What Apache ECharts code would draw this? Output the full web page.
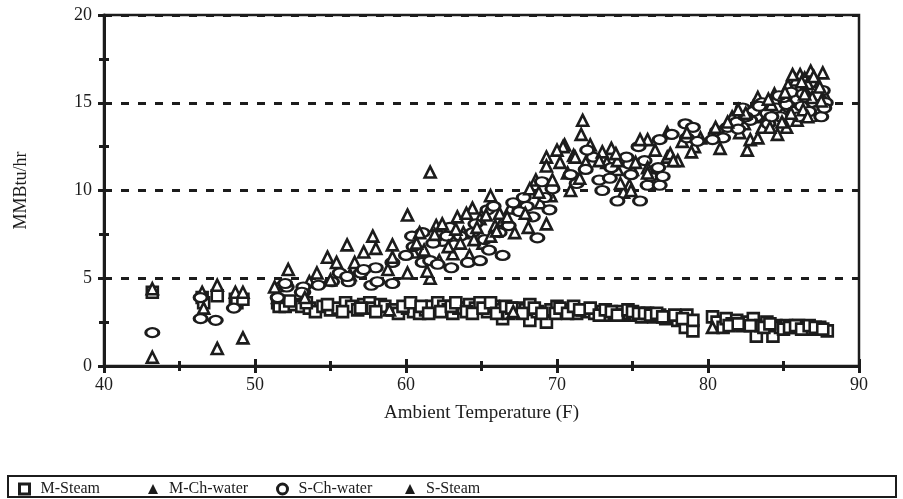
<!DOCTYPE html>
<html>
<head>
<meta charset="utf-8">
<script src="https://cdn.jsdelivr.net/npm/echarts@6/dist/echarts.min.js"></script>
<style>
html,body{margin:0;padding:0;background:#fff;}
#chart{width:903px;height:499px;}
</style>
</head>
<body>
<div id="chart"></div>
<script>
const xTicks = [40, 50, 60, 70, 80, 90];
const yTicks = [0, 5, 10, 15, 20];
const seriesNames = ['M-Steam', 'M-Ch-water', 'S-Ch-water', 'S-Steam'];

const mSteam = [
[43.2,4.2],[46.5,3.9],[46.6,3.6],[47.5,4.0],[48.7,3.8],[48.8,3.6],[49.2,3.8],[51.5,3.6],[52.1,3.6],[51.6,3.4],
[52.0,3.4],[52.6,3.5],[53.1,3.4],[53.6,3.3],[54.0,3.1],[54.5,3.4],[55.0,3.2],[55.5,3.3],[56.0,3.6],[56.4,3.4],
[56.8,3.2],[57.2,3.5],[57.6,3.6],[57.8,3.3],[58.3,3.5],[58.6,3.4],[59.1,3.2],[59.5,3.0],[60.1,3.3],[60.5,3.1],
[60.9,3.0],[61.3,3.2],[61.7,3.4],[62.1,3.6],[62.5,3.4],[62.8,3.2],[63.1,3.0],[63.5,3.3],[63.8,3.3],[64.2,3.5],
[64.6,3.3],[64.9,3.6],[65.4,3.1],[65.8,3.4],[66.2,3.2],[66.4,2.7],[66.8,3.0],[67.2,3.1],[67.5,3.3],[67.9,3.2],
[68.2,3.5],[68.2,2.6],[68.7,3.1],[69.3,2.5],[69.6,3.2],[70.0,3.4],[70.4,3.1],[70.9,3.2],[71.3,3.0],[71.7,3.2],
[72.0,3.1],[72.5,3.0],[73.0,3.1],[73.4,2.9],[73.8,3.0],[74.2,3.1],[74.5,2.9],[74.8,3.0],[75.2,2.9],[75.6,2.8],
[76.0,3.0],[76.4,2.8],[76.8,2.9],[77.2,2.7],[77.5,2.8],[78.0,2.6],[78.6,2.9],[78.5,2.2],[79.0,2.0],[79.0,2.6],
[80.3,2.8],[80.6,2.5],[81.0,2.2],[81.2,2.7],[81.6,2.4],[81.9,2.6],[82.3,2.3],[82.6,2.5],[83.0,2.7],[83.2,1.7],
[83.5,2.3],[83.9,2.5],[84.3,1.7],[84.5,2.3],[84.8,2.2],[85.2,2.3],[85.6,2.2],[86.0,2.3],[86.5,2.2],[86.9,2.1],
[87.4,2.2],[87.9,2.0],
[52.3,3.7],[53.4,3.6],[54.8,3.5],[55.8,3.1],[57.0,3.3],[58.0,3.1],[59.8,3.4],[60.3,3.6],[61.0,3.4],[61.5,3.0],
[62.3,3.1],[63.0,3.4],[63.3,3.6],[64.0,3.1],[64.4,3.0],[65.1,3.3],[65.6,3.6],[66.0,3.0],[66.6,3.4],[67.0,3.3],
[67.7,3.0],[68.5,3.3],[69.0,3.0],[69.9,3.0],[70.2,3.3],[70.7,3.0],[71.1,3.4],[71.5,3.2],[72.2,3.3],[72.8,2.9],
[73.2,3.2],[73.6,3.1],[74.0,2.9],[74.7,3.2],[75.0,3.1],[75.4,3.0],[75.8,3.0],[76.2,2.9],[76.6,3.0],[77.0,2.8],
[77.8,2.9],[78.3,2.7],[81.4,2.3],[82.0,2.4],[82.8,2.3],[83.7,2.2],[84.1,2.4],[85.0,2.1],[85.4,2.2],[85.8,2.3],
[86.2,2.1],[86.7,2.3],[87.1,2.2],[87.6,2.1]
];

const mChWater = [
[43.2,4.4],[46.5,4.2],[47.5,4.6],[48.7,4.2],[51.5,3.9],[52.2,5.5],[54.8,6.2],[56.6,5.9],[57.8,7.4],[59.1,6.9],
[60.1,8.6],[60.1,5.3],[61.6,5.0],[62.0,8.0],[63.1,6.4],[63.4,8.5],[64.4,9.0],[65.1,7.0],[65.6,9.7],[66.4,8.3],
[68.1,7.9],[68.9,9.3],[69.3,11.9],[69.3,11.4],[71.7,14.0],[70.5,12.6],[71.9,11.6],[73.3,11.6],[74.8,10.3],[74.4,9.9],
[76.0,12.9],[77.3,13.3],[78.0,11.7],[79.1,12.5],[82.1,13.3],[82.6,12.3],[83.3,15.3],[84.6,13.2],[86.1,16.6],[87.6,16.7],
[85.6,15.3],[84.6,14.4],[87.2,14.7],[83.4,14.2],[53.6,4.8],[56.3,5.2],[55.4,5.9],[70.4,12.5],[70.7,11.0],[70.9,10.0],
[74.0,11.2],[75.0,11.2],[77.3,11.9],[83.8,14.6],[85.0,15.0],[86.0,15.8],[87.0,16.2],[85.8,16.3],[87.7,15.5],[83.0,14.8],
[81.6,14.2],[58.9,3.2],[80.3,2.2],
[60.5,6.5],[61.2,6.6],[62.6,7.3],[63.8,7.6],[64.9,8.4],[65.9,8.0],[66.9,9.0],[67.6,9.4],[68.6,10.6],[69.6,9.7],
[62.2,6.0],[64.2,6.3],[72.2,12.6],[73.6,12.4],[76.5,12.3],[78.3,12.8],[79.5,13.0],[84.4,15.5],[85.3,16.0],[86.4,16.4],
[87.3,16.0],[83.6,13.6],[82.4,13.8],[85.9,14.0]
];

const sChWater = [
[43.2,1.9],[46.4,2.7],[47.4,2.6],[48.6,3.3],[46.4,3.9],[51.7,4.5],[51.5,3.9],
[52.1,4.5],[53.2,4.2],[54.2,4.6],[55.1,4.8],[55.6,5.3],[56.2,4.8],[57.0,5.3],[58.0,5.6],[57.7,4.6],[59.1,5.9],
[59.1,4.7],[60.4,7.4],[60.5,6.8],[61.1,7.6],[61.1,5.9],[61.6,6.0],[62.1,5.8],[62.4,7.1],[62.7,7.4],[63.6,7.4],
[64.1,5.9],[64.4,7.6],[64.9,6.0],[65.4,8.9],[65.8,9.1],[66.2,7.6],[66.4,6.3],[67.1,9.3],[68.0,9.1],[68.7,7.3],
[69.2,9.6],[69.5,8.9],[69.7,10.1],[67.5,8.8],[52.0,4.7],[53.2,4.5],[53.1,4.2],[56.1,5.1],[58.1,4.8],[57.2,5.5],
[70.9,10.9],[71.3,10.4],[72.8,10.6],[73.5,10.7],[74.8,11.5],[74.9,10.9],[76.0,10.3],[76.7,11.3],[75.4,12.5],[76.8,12.9],
[78.5,13.8],[79.0,13.6],[78.6,13.0],[80.5,13.2],[80.6,13.4],[81.3,13.6],[81.9,13.9],[82.3,14.7],[83.2,14.2],[84.3,15.0],
[85.4,14.7],[86.1,15.0],[87.0,14.2],[87.4,15.2],[87.6,15.7],[86.8,15.7],[85.9,15.2],[83.6,15.0],[74.6,11.9],[73.6,11.3],
[72.4,11.9],[71.9,11.2],[76.2,10.8],[82.8,14.0],[83.0,14.5],[83.9,14.4],[84.5,14.7],[84.8,14.2],[85.2,14.9],[85.7,14.5],
[86.2,14.8],[86.5,15.3],[87.0,15.0],[87.3,14.6],[87.8,15.0],[84.0,13.8],[82.0,13.5],[81.0,13.0],[80.3,12.9],[85.0,15.3],
[86.0,14.2],[87.5,14.2],[86.7,14.5],[73.0,10.0],[74.0,9.4],[75.5,9.4],[76.8,10.3],[77.0,10.8],
[60.0,6.3],[61.8,7.0],[62.9,7.9],[63.2,6.9],[64.6,8.1],[65.2,7.2],[66.8,8.0],[67.8,9.6],[68.4,8.5],[69.0,10.5],
[63.0,5.6],[65.5,6.6],[72.0,12.3],[75.8,11.7],[77.6,13.2],[79.3,12.8],[83.4,14.8],[84.7,15.4],[85.5,15.6],[86.3,15.5],
[87.2,15.4],[87.7,14.7],[82.5,14.2],[84.2,14.2]
];

const sSteam = [
[43.2,0.5],[46.6,3.3],[47.5,1.0],[49.2,4.2],[49.2,1.6],[51.3,4.5],[54.1,5.3],[56.1,6.9],[57.2,6.5],[58.0,6.7],
[59.1,6.2],[61.6,11.05],[61.4,5.4],[60.9,7.6],[62.4,8.1],[63.6,7.0],[64.0,8.7],[64.7,7.9],[65.6,7.4],[66.2,8.7],
[67.2,7.6],[68.2,10.1],[69.3,8.1],[70.0,12.3],[69.7,10.6],[71.6,13.2],[71.1,12.0],[73.0,12.2],[74.0,11.7],[74.9,10.0],
[75.5,12.9],[76.0,11.3],[77.5,12.1],[78.6,13.3],[80.8,12.4],[82.8,12.9],[83.3,13.0],[84.1,13.6],[85.2,13.6],[86.8,16.8],
[86.6,16.1],[86.9,15.3],[86.3,14.6],[82.5,14.4],[81.3,13.9],[55.0,4.9],[58.8,5.5],[71.2,11.9],[71.5,10.7],[72.8,11.7],
[74.2,10.4],[76.0,11.0],[77.7,11.7],[84.2,14.9],[85.5,14.4],[86.4,15.5],[87.4,15.9],[86.6,14.2],[84.9,13.9],[82.0,14.6],
[80.5,13.6],[53.3,3.9],[67.1,3.1],
[60.7,7.0],[61.9,7.5],[63.3,7.8],[64.5,7.2],[65.3,8.6],[66.7,8.5],[67.9,8.7],[68.8,9.9],[62.8,6.8],[66.0,7.7],
[70.2,11.6],[73.9,12.1],[75.2,11.6],[78.9,12.2],[84.0,15.2],[85.1,15.6],[85.6,16.6],[86.2,16.2],[87.0,16.5],[87.5,15.1]
];

const INK = '#1c1c1c';
const FONT = '"Liberation Serif", "Times New Roman", serif';
const chart = echarts.init(document.getElementById('chart'), null, {renderer: 'canvas'});

const hollow = {color: '#fff', borderColor: INK, borderWidth: 2.6, opacity: 1};

function axisX(inside, showLabel) {
  return {
    type: 'value', min: xTicks[0], max: xTicks[xTicks.length - 1], interval: 10,
    position: 'bottom',
    name: showLabel ? 'Ambient Temperature (F)' : '', nameLocation: 'middle', nameGap: 38,
    nameTextStyle: {fontFamily: FONT, fontSize: 19, color: INK},
    axisLine: {show: showLabel, lineStyle: {color: INK, width: 3}},
    axisTick: {show: true, inside: inside, length: 7, lineStyle: {color: INK, width: 3}},
    minorTick: {show: true, splitNumber: 2, length: 5, lineStyle: {color: INK, width: 3}},
    axisLabel: {show: showLabel, fontFamily: FONT, fontSize: 18, color: INK, margin: 10},
    splitLine: {show: false}
  };
}
function axisY(inside, showLabel) {
  return {
    type: 'value', min: yTicks[0], max: yTicks[yTicks.length - 1], interval: 5,
    position: 'left',
    name: showLabel ? 'MMBtu/hr' : '', nameLocation: 'middle', nameGap: 74,
    nameTextStyle: {fontFamily: FONT, fontSize: 18, color: INK},
    axisLine: {show: showLabel, onZero: false, lineStyle: {color: INK, width: 3}},
    axisTick: {show: true, inside: inside, length: 6, lineStyle: {color: INK, width: 3}},
    minorTick: {show: true, splitNumber: 2, length: 5, lineStyle: {color: INK, width: 3}},
    axisLabel: {show: showLabel, fontFamily: FONT, fontSize: 18, color: INK, margin: 12},
    splitLine: {show: showLabel, lineStyle: {color: INK, width: 3, type: [8, 9]}}
  };
}

const legendX = [18, 148, 276, 405];
const legendIcons = ['rect', 'triangle', 'circle', 'triangle'];
const legendStyles = [
  {color: '#fff', borderColor: INK, borderWidth: 3},
  {color: INK, borderColor: INK, borderWidth: 0},
  {color: '#fff', borderColor: INK, borderWidth: 3},
  {color: INK, borderColor: INK, borderWidth: 0}
];

const option = {
  backgroundColor: '#fff',
  animation: false,
  grid: {left: 104, right: 44, top: 15, bottom: 133, show: true, borderColor: INK, borderWidth: 2.5, backgroundColor: 'transparent'},
  xAxis: [axisX(false, true), axisX(true, false)],
  yAxis: [axisY(false, true), axisY(true, false)],
  legend: seriesNames.map((n, i) => ({
    data: [{name: n, icon: legendIcons[i], itemStyle: legendStyles[i]}],
    left: legendX[i], top: 481, padding: 0, itemWidth: 10, itemHeight: 10, itemGap: 0,
    textStyle: {fontFamily: FONT, fontSize: 16, color: INK, padding: [0, 0, 0, 6]},
    selectedMode: false
  })),
  graphic: [{
    type: 'rect', shape: {x: 8, y: 476, width: 888, height: 21},
    style: {fill: 'none', stroke: INK, lineWidth: 2}, z: 100
  }],
  series: [
    {name: seriesNames[0], type: 'scatter', data: mSteam, symbol: 'rect', symbolSize: 11, itemStyle: hollow},
    {name: seriesNames[1], type: 'scatter', data: mChWater, symbol: 'triangle', symbolSize: 11, itemStyle: hollow},
    {name: seriesNames[2], type: 'scatter', data: sChWater, symbol: 'circle', symbolSize: [13, 9], itemStyle: hollow},
    {name: seriesNames[3], type: 'scatter', data: sSteam, symbol: 'triangle', symbolSize: 11, itemStyle: hollow}
  ]
};
chart.setOption(option);
</script>
</body>
</html>
